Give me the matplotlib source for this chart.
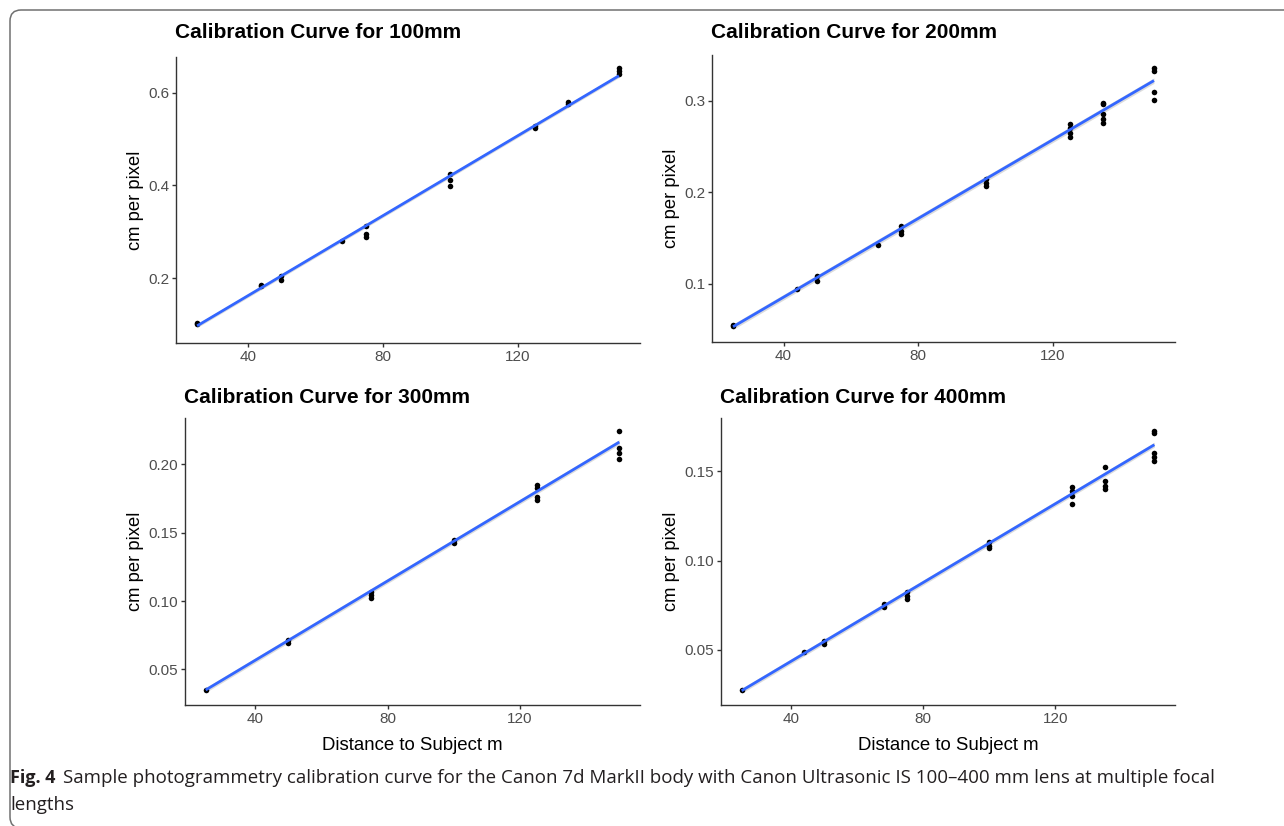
import os
import numpy as np
import matplotlib
matplotlib.use("Agg")
import matplotlib.pyplot as plt
from matplotlib import font_manager as fm
from matplotlib.patches import FancyBboxPatch

# ---------------- data ----------------
titles = ["Calibration Curve for 100mm", "Calibration Curve for 200mm",
          "Calibration Curve for 300mm", "Calibration Curve for 400mm"]

x_100 = [25, 25, 44, 44, 50, 50, 68, 75, 75, 75, 100, 100, 100, 125, 125, 135, 135, 150, 150, 150]
y_100 = [0.103, 0.100, 0.185, 0.183, 0.204, 0.196, 0.280, 0.312, 0.295, 0.288,
         0.424, 0.412, 0.399, 0.529, 0.524, 0.579, 0.576, 0.654, 0.647, 0.641]

x_200 = [25, 25, 44, 50, 50, 68, 75, 75, 75, 100, 100, 100, 125, 125, 125, 125,
         135, 135, 135, 135, 135, 150, 150, 150, 150]
y_200 = [0.055, 0.053, 0.094, 0.108, 0.103, 0.1425, 0.163, 0.157, 0.154, 0.214, 0.210, 0.207,
         0.274, 0.270, 0.265, 0.260, 0.298, 0.296, 0.285, 0.280, 0.276, 0.336, 0.333, 0.310, 0.301]

x_300 = [25, 50, 50, 75, 75, 75, 100, 100, 125, 125, 125, 125, 150, 150, 150, 150]
y_300 = [0.035, 0.0718, 0.0696, 0.1069, 0.1044, 0.102, 0.1449, 0.1424,
         0.1853, 0.1828, 0.1762, 0.1738, 0.2245, 0.2123, 0.2081, 0.2037]

x_400 = [25, 44, 50, 50, 68, 68, 75, 75, 75, 100, 100, 100, 125, 125, 125, 125,
         135, 135, 135, 135, 150, 150, 150, 150, 150]
y_400 = [0.0275, 0.0485, 0.0547, 0.0532, 0.0757, 0.0738, 0.0822, 0.0803, 0.0785,
         0.1103, 0.1084, 0.1071, 0.1412, 0.1393, 0.136, 0.1318,
         0.1524, 0.1446, 0.1421, 0.1399, 0.1727, 0.1715, 0.1603, 0.158, 0.1558]

# fitted (smooth) line read at the ends of the data range
fit_x = [25, 150]
fit_100 = [0.097, 0.6365]
fit_200 = [0.0527, 0.322]
fit_300 = [0.035, 0.2164]
fit_400 = [0.027, 0.165]
band_half = [0.004, 0.003, 0.0018, 0.0014]

yticks_100 = [0.2, 0.4, 0.6]
yticks_200 = [0.1, 0.2, 0.3]
yticks_300 = [0.05, 0.10, 0.15, 0.20]
yticks_400 = [0.05, 0.10, 0.15]
ylabels_100 = ["0.2", "0.4", "0.6"]
ylabels_200 = ["0.1", "0.2", "0.3"]
ylabels_300 = ["0.05", "0.10", "0.15", "0.20"]
ylabels_400 = ["0.05", "0.10", "0.15"]
xticks = [40, 80, 120]
xlabels = ["40", "80", "120"]

ylims = [(0.060, 0.677), (0.036, 0.350), (0.024, 0.234), (0.019, 0.180)]
xlim = (18.75, 156.25)

caption_bold = "Fig. 4"
caption_line1 = ("Sample photogrammetry calibration curve for the Canon 7d MarkII body with "
                 "Canon Ultrasonic IS 100\u2013400 mm lens at multiple focal")
caption_line2 = "lengths"

# ---------------- figure ----------------
W, H = 1284, 826
fig = plt.figure(figsize=(W / 100, H / 100), dpi=100)
fig.patch.set_facecolor("white")

plt.rcParams["font.family"] = ["Liberation Sans", "DejaVu Sans"]

def px_rect(l, r, t, b):
    return [l / W, 1 - b / H, (r - l) / W, (b - t) / H]

rects = [px_rect(176, 640, 57, 343), px_rect(712, 1175, 55, 342),
         px_rect(185, 640, 418, 705), px_rect(721, 1175, 418, 705)]
title_pos = [(175, 33), (711, 33), (184, 398), (720, 398)]

xs = [x_100, x_200, x_300, x_400]
ys = [y_100, y_200, y_300, y_400]
fits = [fit_100, fit_200, fit_300, fit_400]
ytks = [yticks_100, yticks_200, yticks_300, yticks_400]
ytls = [ylabels_100, ylabels_200, ylabels_300, ylabels_400]

axis_col = "#333333"
tick_lab_col = "#4D4D4D"

for i in range(4):
    ax = fig.add_axes(rects[i])
    fx = np.array(fit_x, dtype=float)
    fy = np.array(fits[i], dtype=float)
    ax.fill_between(fx, fy - band_half[i], fy + band_half[i], color="#999999",
                    alpha=0.35, linewidth=0, zorder=1)
    ax.scatter(xs[i], ys[i], s=16, color="black", linewidths=0, zorder=2)
    ax.plot(fx, fy, color="#3366FF", linewidth=2.0, zorder=3, solid_capstyle="butt")
    ax.set_xlim(*xlim)
    ax.set_ylim(*ylims[i])
    ax.set_xticks(xticks)
    ax.set_xticklabels(xlabels)
    ax.set_yticks(ytks[i])
    ax.set_yticklabels(ytls[i])
    for s in ("top", "right"):
        ax.spines[s].set_visible(False)
    for s in ("left", "bottom"):
        ax.spines[s].set_color(axis_col)
        ax.spines[s].set_linewidth(1.0)
    ax.tick_params(direction="out", length=2.8, width=1.0, color=axis_col,
                   labelcolor=tick_lab_col, labelsize=11, pad=2.2)
    ax.set_ylabel("cm per pixel", fontsize=13.2, color="black", labelpad=3)
    fig.text(title_pos[i][0] / W, 1 - title_pos[i][1] / H, titles[i],
             fontsize=15, fontweight="bold", ha="left", va="center", color="black")
    if i >= 2:
        l, b, w, h = rects[i]
        fig.text(l + w / 2, 1 - 745 / H, "Distance to Subject m", fontsize=13.4,
                 ha="center", va="center", color="black")

# ---------------- border ----------------
border = FancyBboxPatch((0.10, -0.02), 13.5, 8.18, boxstyle="round,pad=0,rounding_size=0.11",
                        transform=fig.dpi_scale_trans, facecolor="none",
                        edgecolor="#707070", linewidth=1.1, clip_on=False)
fig.add_artist(border)

# ---------------- caption ----------------
def pick_condensed():
    cands = [("Liberation Sans Narrow", "normal"), ("Liberation Sans Narrow", "condensed"),
             ("Noto Sans", "condensed"), ("Open Sans", "condensed"), ("Roboto", "condensed")]
    for fam, st in cands:
        try:
            fp = fm.FontProperties(family=fam, stretch=st)
            path = fm.findfont(fp, fallback_to_default=False)
            base = os.path.basename(path).lower()
            if "narrow" in base or "condensed" in base:
                return fam, st
        except Exception:
            pass
    return "Open Sans", "normal"

cap_fam, cap_st = pick_condensed()
renderer = fig.canvas.get_renderer()

t_bold = fig.text(10 / W, 1 - 778 / H, caption_bold, fontsize=12, fontweight="bold",
                  family=[cap_fam, "DejaVu Sans"], fontstretch=cap_st,
                  ha="left", va="center", color="#231F20")
t1 = fig.text(84 / W, 1 - 778 / H, caption_line1, fontsize=12,
              family=[cap_fam, "DejaVu Sans"], fontstretch=cap_st,
              ha="left", va="center", color="#231F20")
t_bold.set_fontsize(13)
wb = t_bold.get_window_extent(renderer).width
x_start = 10 + wb + 8
wpx = t1.get_window_extent(renderer).width
fs = 12 * (1212 - x_start) / wpx
fs = min(fs, 14)
t1.set_fontsize(fs)
t1.set_x(x_start / W)
fig.text(10 / W, 1 - 805 / H, caption_line2, fontsize=fs,
         family=[cap_fam, "DejaVu Sans"], fontstretch=cap_st,
         ha="left", va="center", color="#231F20")

fig.savefig("out.png", dpi=100, facecolor="white")
